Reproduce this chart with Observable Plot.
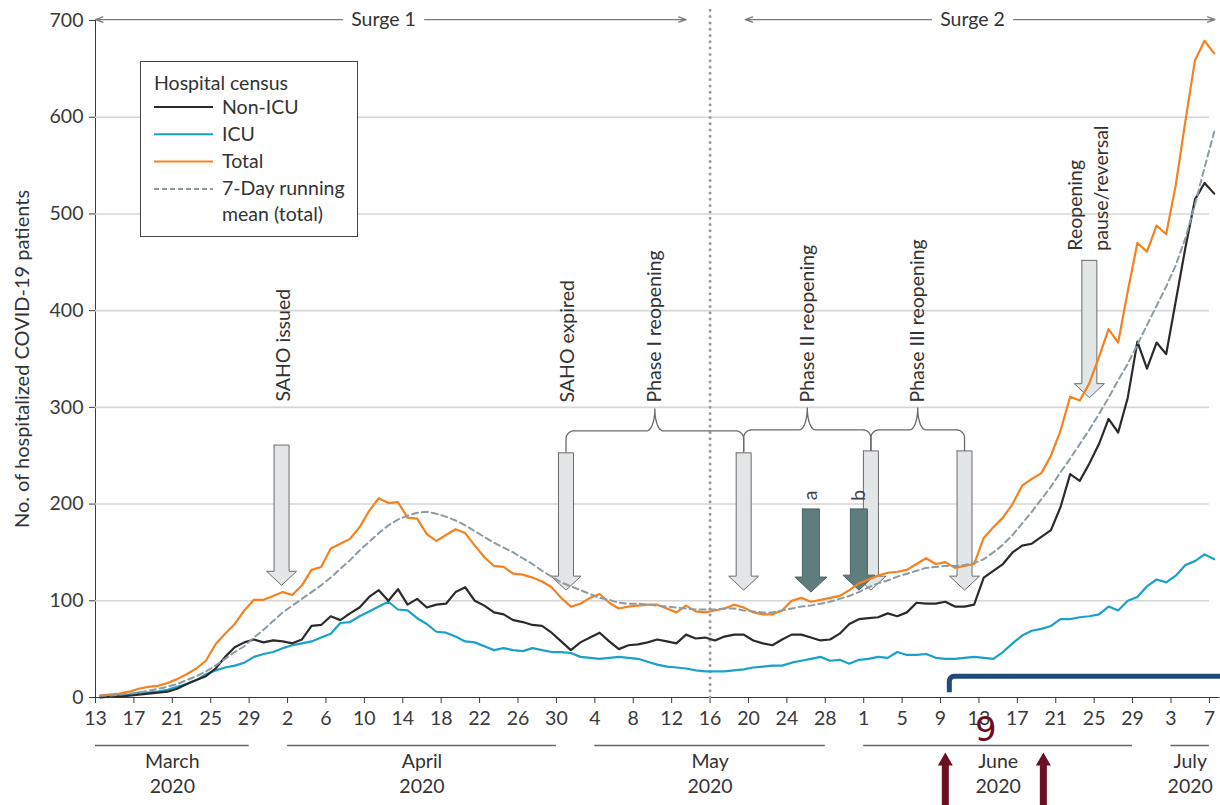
<!DOCTYPE html>
<html>
<head>
<meta charset="utf-8">
<script src="https://cdn.jsdelivr.net/npm/d3@7"></script>
<script src="https://cdn.jsdelivr.net/npm/@observablehq/plot@0.6"></script>
<style>
  html, body { margin: 0; padding: 0; background: #fff; }
  #chart { position: relative; width: 1220px; height: 805px; overflow: hidden; font-family: Lato, sans-serif; }
  #chart > svg { position: absolute; left: 0; top: 0; }
</style>
</head>
<body>
<div id="chart"></div>
<script>
// ---- Daily hospital census, one value per day starting 13 March 2020 ----
const firstDay = "2020-03-13";
const lastDay = "2020-07-08";

const total = [
  2, 3, 4, 6, 9, 11, 12, 15, 19, 24,
  30, 38, 55, 66, 76, 90, 101, 101, 105, 109,
  106, 116, 132, 135, 154, 159, 164, 176, 193, 206,
  201, 202, 186, 185, 169, 162, 168, 174, 170, 157,
  145, 136, 135, 128, 127, 124, 120, 114, 103, 94,
  97, 103, 107, 98, 92, 94, 95, 96, 96, 92,
  88, 95, 89, 88, 90, 92, 96, 93, 88, 86,
  86, 90, 100, 103, 99, 101, 103, 105, 111, 118,
  122, 126, 129, 130, 132, 138, 144, 138, 140, 134,
  136, 138, 165, 176, 186, 200, 219, 226, 232, 250,
  276, 311, 307, 325, 352, 381, 367, 420, 470, 461,
  488, 479, 530, 596, 659, 679, 666
];
const nonIcu = [
  0, 1, 1, 2, 3, 4, 5, 6, 9, 14,
  18, 22, 30, 42, 52, 57, 60, 57, 59, 58,
  56, 60, 74, 75, 84, 80, 87, 93, 104, 111,
  100, 112, 96, 102, 93, 96, 97, 109, 114, 100,
  95, 88, 86, 80, 78, 75, 74, 67, 58, 49,
  57, 62, 67, 58, 50, 54, 55, 57, 60, 58,
  56, 65, 61, 62, 59, 63, 65, 65, 59, 56,
  54, 60, 65, 65, 62, 59, 60, 66, 76, 81,
  82, 83, 87, 84, 88, 98, 97, 97, 99, 94,
  94, 96, 124, 131, 138, 150, 157, 159, 166, 173,
  197, 231, 224, 242, 262, 288, 274, 310, 368, 340,
  367, 355, 410, 465, 515, 532, 521
];
const icu = [
  1, 1, 2, 3, 5, 5, 6, 8, 11, 14,
  18, 24, 28, 31, 33, 36, 42, 45, 47, 51,
  54, 56, 58, 62, 66, 77, 78, 84, 89, 94,
  99, 91, 90, 82, 76, 68, 67, 63, 58, 57,
  53, 49, 51, 49, 48, 51, 49, 47, 47, 46,
  42, 41, 40, 41, 42, 41, 40, 37, 34, 32,
  31, 30, 28, 27, 27, 27, 28, 29, 31, 32,
  33, 33, 36, 38, 40, 42, 38, 39, 35, 39,
  40, 42, 41, 47, 44, 44, 45, 41, 40, 40,
  41, 42, 41, 40, 47, 56, 64, 69, 71, 74,
  81, 81, 83, 84, 86, 94, 90, 100, 104, 115,
  122, 119, 126, 137, 141, 148, 143
];
const mean7 = [
  2, 2, 3, 4, 5, 7, 9, 11, 14, 18,
  22, 27, 33, 40, 47, 53, 62, 70, 79, 88,
  95, 102, 109, 116, 124, 133, 142, 152, 161, 170,
  178, 184, 188, 191, 192, 190, 187, 183, 178, 172,
  166, 160, 155, 150, 144, 138, 131, 125, 119, 115,
  111, 107, 103, 101, 98, 97, 97, 96, 95, 94,
  93, 92, 91, 91, 91, 92, 92, 90, 89, 88,
  88, 90, 92, 94, 95, 97, 99, 102, 105, 109,
  114, 118, 121, 125, 128, 131, 134, 135, 136, 136,
  137, 139, 143, 150, 158, 168, 180, 192, 205, 218,
  233, 247, 262, 277, 293, 310, 328, 345, 365, 385,
  405, 425, 447, 475, 510, 548, 585
];

const yTicks = [0, 100, 200, 300, 400, 500, 600, 700];
const gridValues = [100, 200, 300, 400, 500, 600];
const tickStepDays = 4;

const months = [
  {name: "March", year: "2020", from: "2020-03-13", to: "2020-03-29"},
  {name: "April", year: "2020", from: "2020-04-02", to: "2020-04-30"},
  {name: "May",   year: "2020", from: "2020-05-04", to: "2020-05-28"},
  {name: "June",  year: "2020", from: "2020-06-01", to: "2020-06-29"},
  {name: "July",  year: "2020", from: "2020-07-03", to: "2020-07-07"}
];

const surges = [
  {label: "Surge 1", from: "2020-03-13", mid: "2020-04-12T00:00Z", to: "2020-05-13T12:00Z"},
  {label: "Surge 2", from: "2020-05-19T16:00Z", mid: "2020-06-12T08:00Z", to: "2020-07-07T14:00Z"}
];
const surgeLevel = 701;
const surgeDivide = "2020-05-16";

// Policy events: block arrows pointing down at the curve
const events = [
  {id: "saho-issued",  date: "2020-04-01T09:00Z", top: 261, tip: 116, tone: "light"},
  {id: "saho-expired", date: "2020-05-01",        top: 253, tip: 111, tone: "light"},
  {id: "phase-1",      date: "2020-05-19T12:00Z", top: 253, tip: 111, tone: "light"},
  {id: "a",            date: "2020-05-26T12:00Z", top: 195, tip: 109, tone: "dark"},
  {id: "b",            date: "2020-05-31T12:00Z", top: 195, tip: 111, tone: "dark"},
  {id: "phase-2",      date: "2020-06-01T18:00Z", top: 255, tip: 111, tone: "light"},
  {id: "phase-3",      date: "2020-06-11T12:00Z", top: 255, tip: 111, tone: "light"},
  {id: "pause",        date: "2020-06-24T12:00Z", top: 452, tip: 310, tone: "light"}
];
const eventNotes = [
  {text: "SAHO issued",  date: "2020-04-01T09:00Z", base: 306},
  {text: "SAHO expired", date: "2020-05-01",        base: 305},
  {text: "Reopening\npause/reversal", date: "2020-06-24T06:00Z", base: 462}
];
const phases = [
  {text: "Phase I reopening",   from: "2020-05-01",        to: "2020-05-19T12:00Z", base: 254, labelBase: 305},
  {text: "Phase II reopening",  from: "2020-05-19T12:00Z", to: "2020-06-01T18:00Z", base: 255, labelBase: 305},
  {text: "Phase III reopening", from: "2020-06-01T18:00Z", to: "2020-06-11T12:00Z", base: 255, labelBase: 305}
];
const letters = [
  {text: "a", date: "2020-05-26T12:00Z", at: 209},
  {text: "b", date: "2020-05-31T12:00Z", at: 209}
];

// Page markings laid over the lower right of the figure
const markupArrows = ["2020-06-09T12:00Z", "2020-06-19T17:00Z"];
const markupNote = {text: "9", date: "2020-06-13T17:00Z"};
const markupBracket = {from: "2020-06-09T22:00Z", level: 22};

const legendItems = [
  {label: "Non-ICU", color: "#2b2b2b"},
  {label: "ICU", color: "#1aa1c8"},
  {label: "Total", color: "#f5821f"},
  {label: "7-Day running\nmean (total)", color: "#8c9ba4", dash: "5,3"}
];

// ---- Layout ----
const W = 1220, H = 805;
const M = {top: 20, right: 1.5, bottom: 108, left: 95};
const DAY = 864e5;
const t0 = +new Date(firstDay), t1 = +new Date(lastDay);
const pxPerDay = (W - M.left - M.right) / ((t1 - t0) / DAY);
const pxPerUnit = (H - M.top - M.bottom) / 700;
const shiftX = (date, px) => new Date(+new Date(date) + px / pxPerDay * DAY);
const shiftY = (v, px) => v + px / pxPerUnit;

const toSeries = arr => arr.map((v, i) => ({date: new Date(t0 + (i + 0.5) * DAY), v}));
const xTicks = d3.range(0, (t1 - t0) / DAY, tickStepDays).map(i => new Date(t0 + i * DAY));

function blockArrow(id, date, from, to, sw, hw, hl) {
  const dir = Math.sign(to - from);
  const neck = to - dir * hl / pxPerUnit;
  return [[-sw, from], [sw, from], [sw, neck], [hw, neck], [0, to], [-hw, neck], [-sw, neck], [-sw, from]]
    .map(([px, v]) => ({id, x: shiftX(date, px), y: v}));
}

function bracePoints(p, k) {
  const L = (+new Date(p.to) - +new Date(p.from)) / DAY * pxPerDay;
  const r = 8, level = 21, cusp = 43, m = L / 2, cw = 8;
  const left = [[0, 0], [0, level - r]];
  for (let t = 1; t <= 10; t++) {
    const a = t / 10 * Math.PI / 2;
    left.push([r - r * Math.cos(a), level - r + r * Math.sin(a)]);
  }
  left.push([m - cw, level]);
  for (let t = 1; t <= 10; t++) {
    const a = t / 10 * Math.PI / 2;
    left.push([m - cw + cw * Math.sin(a), level + (cusp - level) * (1 - Math.cos(a))]);
  }
  const right = left.slice(0, -1).reverse().map(([px, py]) => [L - px, py]);
  return [...left, ...right].map(([px, py]) => ({id: k, x: shiftX(p.from, px), y: shiftY(p.base, py)}));
}

function bracketPoints(b) {
  const pts = [[0, -16], [0, -5]];
  for (let t = 1; t <= 6; t++) {
    const a = t / 6 * Math.PI / 2;
    pts.push([5 - 5 * Math.cos(a), -5 + 5 * Math.sin(a)]);
  }
  pts.push([400, 0]);
  return pts.map(([px, py]) => ({x: shiftX(b.from, px), y: shiftY(b.level, py)}));
}

const lightArrows = events.filter(e => e.tone === "light").flatMap(e => blockArrow(e.id, e.date, e.top, e.tip, 7.5, 15, 14));
const darkArrows = events.filter(e => e.tone === "dark").flatMap(e => blockArrow(e.id, e.date, e.top, e.tip, 8.5, 16, 15));
const braces = phases.flatMap((p, k) => bracePoints(p, k));
const phaseMid = p => new Date((+new Date(p.from) + +new Date(p.to)) / 2);
const monthMid = d => new Date((+new Date(d.from) + +new Date(d.to)) / 2);

const surgeSegments = surges.flatMap(s => [
  {x1: shiftX(s.mid, -41), x2: new Date(s.from)},
  {x1: shiftX(s.mid, 41), x2: new Date(s.to)}
]);

const redArrows = markupArrows.flatMap((d, k) =>
  blockArrow("r" + k, d, shiftY(0, -115), shiftY(0, -55), 3.5, 7.5, 13));

const font = "Lato, sans-serif";
const ink = "#333";
const fs = 19.5;

const chart = Plot.plot({
  width: W,
  height: H,
  marginTop: M.top,
  marginRight: M.right,
  marginBottom: M.bottom,
  marginLeft: M.left,
  style: {fontFamily: font, fontSize: fs + "px", color: "#3a3a3a", background: "#fff", overflow: "visible"},
  x: {type: "utc", domain: [new Date(t0), new Date(t1)], ticks: xTicks, tickFormat: d => d.getUTCDate(),
      tickSize: 6, tickPadding: 8, line: true, label: null},
  y: {domain: [0, 700], ticks: yTicks, tickSize: 6, tickPadding: 6, line: true, label: null},
  marks: [
    // horizontal grid
    Plot.ruleY(gridValues, {x1: new Date(t0), x2: shiftX(lastDay, -9.6), stroke: "#d6d6d6", strokeWidth: 1.6}),
    // divider between the two surges
    Plot.ruleX([new Date(surgeDivide)], {y1: 0, y2: shiftY(700, 14), stroke: "#9a9a9a", strokeWidth: 3,
      strokeDasharray: "0,6.3", strokeLinecap: "round"}),
    // surge spans
    Plot.arrow(surgeSegments, {x1: "x1", x2: "x2", y1: surgeLevel, y2: surgeLevel, stroke: "#7a7a7a",
      strokeWidth: 1.3, headLength: 9, headAngle: 40}),
    Plot.text(surges, {x: d => new Date(d.mid), y: surgeLevel, text: "label", fontSize: fs, fill: ink}),
    // month groupings below the axis
    Plot.ruleY(months, {x1: d => new Date(d.from), x2: d => new Date(d.to), y: () => 0, dy: 48, stroke: "#666", strokeWidth: 1.5}),
    Plot.text(months, {x: monthMid, text: "name", frameAnchor: "bottom", textAnchor: "middle", dy: 70, fontSize: fs, fill: ink}),
    Plot.text(months, {x: monthMid, text: "year", frameAnchor: "bottom", textAnchor: "middle", dy: 95, fontSize: fs, fill: ink}),
    // y axis title
    Plot.text(["No. of hospitalized COVID-19 patients"], {frameAnchor: "left", textAnchor: "middle", dx: -73, rotate: -90, fontSize: 20, fill: ink}),
    // phase braces
    Plot.line(braces, {x: "x", y: "y", z: "id", stroke: "#6a6a6a", strokeWidth: 1.3, curve: "linear"}),
    // event arrows
    Plot.line(lightArrows, {x: "x", y: "y", z: "id", fill: "#e3e6e6", stroke: "#6b6b6b", strokeWidth: 1, curve: "linear", strokeLinejoin: "miter"}),
    Plot.line(darkArrows, {x: "x", y: "y", z: "id", fill: "#5f7d7c", stroke: "#4c6262", strokeWidth: 1, curve: "linear", strokeLinejoin: "miter"}),
    // event labels
    Plot.text(eventNotes, {x: d => new Date(d.date), y: "base", text: "text", rotate: -90, textAnchor: "start", lineHeight: 1.3, fontSize: fs, fill: ink}),
    Plot.text(phases, {x: phaseMid, y: "labelBase", text: "text", rotate: -90, textAnchor: "start", fontSize: fs, fill: ink}),
    Plot.text(letters, {x: d => new Date(d.date), y: "at", text: "text", rotate: -90, fontSize: fs, fill: "#444"}),
    // census series
    Plot.line(toSeries(icu), {x: "date", y: "v", stroke: "#1aa1c8", strokeWidth: 2.2}),
    Plot.line(toSeries(nonIcu), {x: "date", y: "v", stroke: "#2b2b2b", strokeWidth: 2.2}),
    Plot.line(toSeries(total), {x: "date", y: "v", stroke: "#f5821f", strokeWidth: 2.2}),
    Plot.line(toSeries(mean7), {x: "date", y: "v", stroke: "#8c9ba4", strokeWidth: 2, strokeDasharray: "6,4"}),
    // page markings
    Plot.line(bracketPoints(markupBracket), {x: "x", y: "y", stroke: "#1f4b7a", strokeWidth: 5, strokeLinecap: "butt", curve: "linear"}),
    Plot.line(redArrows, {x: "x", y: "y", z: "id", fill: "#6b0f22", stroke: "none", curve: "linear"}),
    Plot.text([markupNote], {x: d => new Date(d.date), text: "text", frameAnchor: "bottom", textAnchor: "middle", dy: 43, fontSize: 34,
      fontFamily: "DejaVu Sans", fill: "#6b1024"})
  ]
});

const root = document.getElementById("chart");
root.appendChild(chart);

// ---- Legend box ----
const lg = d3.create("svg")
  .attr("width", 218).attr("height", 176)
  .style("position", "absolute").style("left", "140px").style("top", "61px")
  .style("font-family", font).style("font-size", fs + "px");
lg.append("rect").attr("x", 0.5).attr("y", 0.5).attr("width", 217).attr("height", 175)
  .attr("fill", "#fff").attr("stroke", "#444").attr("stroke-width", 1);
lg.append("text").attr("x", 14).attr("y", 29).attr("fill", ink).text("Hospital census");
legendItems.forEach((item, i) => {
  const cy = 46 + i * 27.3;
  lg.append("line").attr("x1", 14).attr("x2", 73).attr("y1", cy).attr("y2", cy)
    .attr("stroke", item.color).attr("stroke-width", 2)
    .attr("stroke-dasharray", item.dash || null);
  item.label.split("\n").forEach((part, j) => {
    lg.append("text").attr("x", 82).attr("y", cy + 6.5 + j * 26).attr("fill", ink).text(part);
  });
});
root.appendChild(lg.node());
</script>
</body>
</html>
